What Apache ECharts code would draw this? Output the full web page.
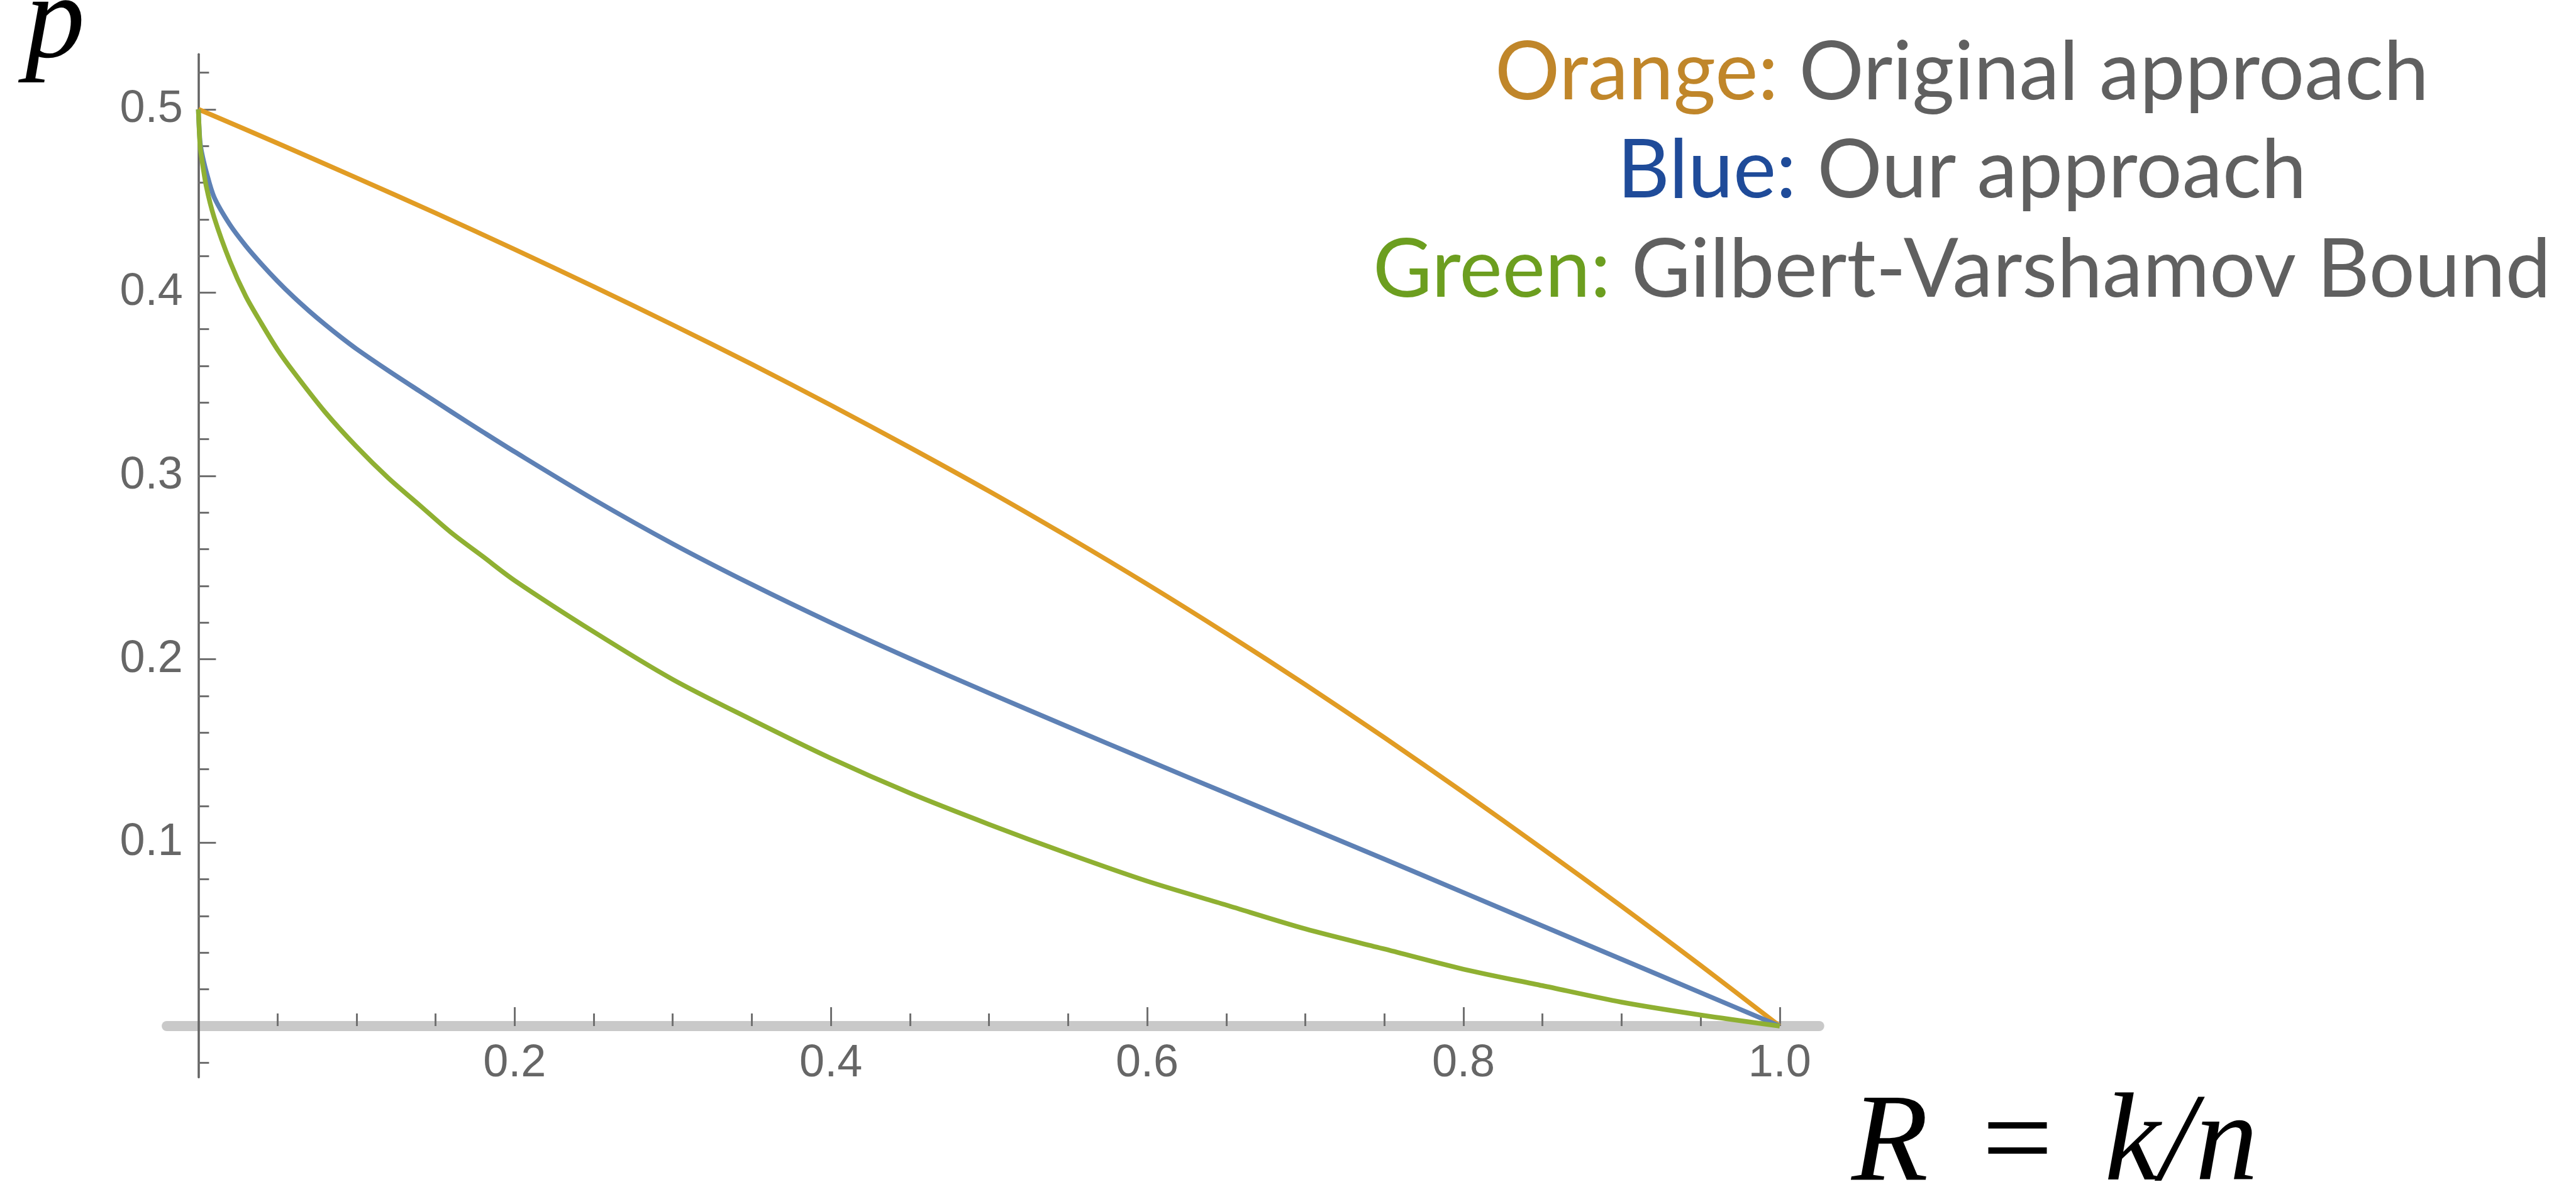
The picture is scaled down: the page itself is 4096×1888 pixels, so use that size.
<!DOCTYPE html>
<html>
<head>
<meta charset="utf-8">
<script src="https://cdn.jsdelivr.net/npm/echarts@6/dist/echarts.min.js"></script>
<style>
html,body{margin:0;padding:0;background:#ffffff;}
#chart{width:4096px;height:1888px;}
</style>
</head>
<body>
<div id="chart"></div>
<script>
// ---- data ----
const rOrange = [0,0.05,0.1,0.15,0.2,0.25,0.3,0.35,0.4,0.45,0.5,0.55,0.6,0.65,0.7,0.75,0.8,0.85,0.9,0.95,1.0];
const pOrange = [0.500,0.4815,0.4626,0.4434,0.4236,0.4033,0.3824,0.3609,0.3386,0.3155,0.2917,0.2668,0.2410,0.2141,0.1862,0.1573,0.1274,0.0967,0.0653,0.0331,0.000];

const rBlue = [0,0.001,0.002,0.005,0.01,0.02,0.03,0.04,0.05,0.06,0.07,0.08,0.09,0.10,0.12,0.14,0.16,0.18,0.20,0.25,0.30,0.35,0.40,0.45,0.50,0.55,0.60,0.65,0.70,0.75,0.80,0.85,0.90,0.95,1.0];
const pBlue = [0.500,0.483,0.477,0.466,0.452,0.437,0.4255,0.4155,0.4063,0.3978,0.3900,0.3827,0.3758,0.3693,0.3575,0.3462,0.3350,0.3240,0.3132,0.2872,0.2630,0.2408,0.2200,0.2004,0.1816,0.1632,0.1450,0.1270,0.1090,0.0910,0.0728,0.0546,0.0364,0.0182,0.000];

const rGreen = [0,0.001,0.002,0.005,0.01,0.02,0.03,0.04,0.05,0.06,0.08,0.10,0.12,0.14,0.16,0.18,0.20,0.25,0.30,0.35,0.40,0.45,0.50,0.55,0.60,0.65,0.70,0.75,0.80,0.85,0.90,0.95,1.0];
const pGreen = [0.500,0.481,0.474,0.458,0.441,0.417,0.398,0.383,0.369,0.357,0.335,0.316,0.299,0.284,0.269,0.256,0.243,0.215,0.189,0.167,0.146,0.127,0.110,0.094,0.079,0.066,0.053,0.042,0.031,0.022,0.013,0.006,0.000];

const xMajorTicks = [0.2,0.4,0.6,0.8,1.0];
const xMinorTicks = [0.05,0.1,0.15,0.25,0.3,0.35,0.45,0.5,0.55,0.65,0.7,0.75,0.85,0.9,0.95];
const yMajorTicks = [0.1,0.2,0.3,0.4,0.5];
const yMinorTicks = [-0.02,0.02,0.04,0.06,0.08,0.12,0.14,0.16,0.18,0.22,0.24,0.26,0.28,0.32,0.34,0.36,0.38,0.42,0.44,0.46,0.48,0.52];

const legendKeys = ['Orange:', 'Blue:', 'Green:'];
const legendDescs = ['Original approach', 'Our approach', 'Gilbert-Varshamov Bound'];
const yAxisTitle = 'p';
const xAxisTitleParts = ['R', '=', 'k/n'];

// ---- styles ----
const lineColors = ['#E19C24', '#5E81B5', '#8FB032'];
const keyColors = ['#C0862A', '#1F4B99', '#6C9E1F'];
const descColor = '#606060';
const legendFont = 'Lato';
const legendSize = 129;
const legendYs = [116, 272.7, 430.4];

const zip = (xs, ys) => xs.map((x, i) => [x, ys[i]]);

const chart = echarts.init(document.getElementById('chart'), null, {renderer: 'canvas', width: 4096, height: 1888});

const labelStyle = {fontSize: 72, fontFamily: 'Liberation Sans', color: '#666666'};

const option = {
  animation: false,
  backgroundColor: '#ffffff',
  grid: {left: 265.1, top: 86.3, width: 2627.6, height: 1627.3, containLabel: false},
  xAxis: [
    {
      type: 'value', min: -0.02, max: 1.025, position: 'bottom', z: 1,
      axisLine: {show: true, onZero: true, onZeroAxisIndex: 0, lineStyle: {color: '#c9c9c9', width: 16}},
      axisTick: {show: true, inside: true, length: 30, customValues: xMajorTicks, lineStyle: {color: '#707070', width: 3}},
      axisLabel: Object.assign({show: true, margin: -57, customValues: xMajorTicks, formatter: v => v.toFixed(1)}, labelStyle),
      splitLine: {show: false}, minorTick: {show: false}
    },
    {
      type: 'value', min: -0.02, max: 1.025, position: 'bottom', z: 1,
      axisLine: {show: true, onZero: true, onZeroAxisIndex: 0, lineStyle: {opacity: 0, width: 1}},
      axisTick: {show: true, inside: true, length: 20, customValues: xMinorTicks, lineStyle: {color: '#707070', width: 3}},
      axisLabel: {show: false},
      splitLine: {show: false}
    }
  ],
  yAxis: [
    {
      type: 'value', min: -0.028, max: 0.53, position: 'left', z: 2,
      axisLine: {show: true, onZero: true, onZeroAxisIndex: 0, lineStyle: {color: '#636363', width: 3.5}},
      axisTick: {show: true, inside: true, length: 28, customValues: yMajorTicks, lineStyle: {color: '#707070', width: 3}},
      axisLabel: Object.assign({show: true, margin: -25.6, customValues: yMajorTicks, formatter: v => v.toFixed(1)}, labelStyle),
      splitLine: {show: false}
    },
    {
      type: 'value', min: -0.028, max: 0.53, position: 'left', z: 2,
      axisLine: {show: true, onZero: true, onZeroAxisIndex: 0, lineStyle: {opacity: 0, width: 1}},
      axisTick: {show: true, inside: true, length: 17, customValues: yMinorTicks, lineStyle: {color: '#707070', width: 3}},
      axisLabel: {show: false},
      splitLine: {show: false}
    }
  ],
  series: [
    {name: 'Original approach', type: 'line', xAxisIndex: 0, yAxisIndex: 0, data: zip(rOrange, pOrange), showSymbol: false, smooth: 0.3, lineStyle: {color: lineColors[0], width: 7.5, join: 'round'}, z: 3},
    {name: 'Our approach', type: 'line', xAxisIndex: 0, yAxisIndex: 0, data: zip(rBlue, pBlue), showSymbol: false, smooth: 0.3, lineStyle: {color: lineColors[1], width: 7.5, join: 'round'}, z: 4},
    {name: 'Gilbert-Varshamov Bound', type: 'line', xAxisIndex: 0, yAxisIndex: 0, data: zip(rGreen, pGreen), showSymbol: false, smooth: 0.3, lineStyle: {color: lineColors[2], width: 7.5, join: 'round'}, z: 5}
  ],
  graphic: legendKeys.map((k, i) => ({
    type: 'text', x: 3119.5, y: legendYs[i], silent: true,
    style: {
      text: '{k|' + k + '} {d|' + legendDescs[i] + '}',
      fontSize: legendSize, fontFamily: legendFont,
      align: 'center', verticalAlign: 'middle',
      rich: {
        k: {fill: keyColors[i], fontSize: legendSize, fontFamily: legendFont},
        d: {fill: descColor, fontSize: legendSize, fontFamily: legendFont}
      }
    }
  })).concat([
    {type: 'text', x: 40, y: 40, silent: true,
     style: {text: yAxisTitle, font: 'italic 190px "Liberation Serif"', fill: '#000000', verticalAlign: 'middle'}},
    {type: 'text', x: 2944, y: 1823, silent: true,
     style: {
       text: '{a|' + xAxisTitleParts[0] + '}{s| }{a|' + xAxisTitleParts[1] + '}{s| }{a|' + xAxisTitleParts[2] + '}',
       fontSize: 200, fontFamily: 'Liberation Serif', verticalAlign: 'middle',
       rich: {
         a: {fontSize: 200, fontFamily: 'Liberation Serif', fontStyle: 'italic', fill: '#000000'},
         s: {fontSize: 290, fontFamily: 'Liberation Serif', fill: '#000000'}
       }
     }}
  ])
};
chart.setOption(option);
</script>
</body>
</html>
